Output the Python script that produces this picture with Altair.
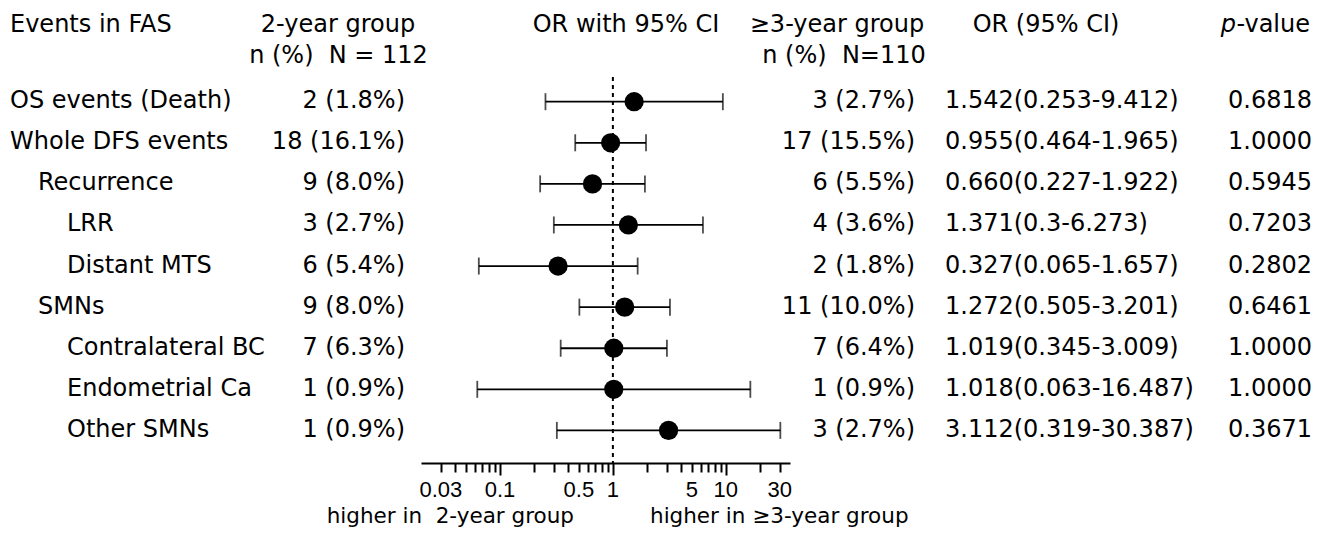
import altair as alt
import pandas as pd

# ---- data -------------------------------------------------------------
rows = ["OS events (Death)", "Whole DFS events", "Recurrence", "LRR", "Distant MTS",
        "SMNs", "Contralateral BC", "Endometrial Ca", "Other SMNs"]
levels = [0, 0, 1, 2, 2, 1, 2, 2, 2]
n_two = ["2 (1.8%)", "18 (16.1%)", "9 (8.0%)", "3 (2.7%)", "6 (5.4%)",
         "9 (8.0%)", "7 (6.3%)", "1 (0.9%)", "1 (0.9%)"]
n_three = ["3 (2.7%)", "17 (15.5%)", "6 (5.5%)", "4 (3.6%)", "2 (1.8%)",
           "11 (10.0%)", "7 (6.4%)", "1 (0.9%)", "3 (2.7%)"]
odds = [1.542, 0.955, 0.660, 1.371, 0.327, 1.272, 1.019, 1.018, 3.112]
ci_low = [0.253, 0.464, 0.227, 0.3, 0.065, 0.505, 0.345, 0.063, 0.319]
ci_high = [9.412, 1.965, 1.922, 6.273, 1.657, 3.201, 3.009, 16.487, 30.387]
or_text = ["1.542(0.253-9.412)", "0.955(0.464-1.965)", "0.660(0.227-1.922)",
           "1.371(0.3-6.273)", "0.327(0.065-1.657)", "1.272(0.505-3.201)",
           "1.019(0.345-3.009)", "1.018(0.063-16.487)", "3.112(0.319-30.387)"]
p_values = ["0.6818", "1.0000", "0.5945", "0.7203", "0.2802",
            "0.6461", "1.0000", "1.0000", "0.3671"]

tick_values = [0.03, 0.04, 0.05, 0.06, 0.07, 0.08, 0.09, 0.1,
               0.2, 0.3, 0.4, 0.5, 0.6, 0.7, 0.8, 0.9, 1,
               2, 3, 4, 5, 6, 7, 8, 9, 10, 20, 30]
major_ticks = [0.1, 1, 10]
labelled_ticks = [0.03, 0.1, 0.5, 1, 5, 10, 30]
labelled_text = ["0.03", "0.1", "0.5", "1", "5", "10", "30"]
ref_line = [1]

df = pd.DataFrame({
    "label": rows, "level": levels, "n2": n_two, "n3": n_three,
    "or": odds, "lo": ci_low, "hi": ci_high, "ortxt": or_text, "p": p_values,
})
ticks_df = pd.DataFrame({"v": labelled_ticks, "t": labelled_text})

# ---- styling ----------------------------------------------------------
FONT = "DejaVu Sans"
FS = 24
W, H = 1312, 455

xscale = alt.Scale(type="log", domain=[0.02, 37], range=[413, 782], nice=False)
yscale = alt.Scale(type="point", domain=rows, range=[93.7, 422.4], padding=0)

base = alt.Chart(df)
Y = alt.Y("label:N", scale=yscale, axis=None)

major_test = "indexof(%s, datum.value) >= 0" % str(major_ticks)

xaxis = alt.Axis(
    values=tick_values, title=None, grid=False, labels=False,
    domainColor="black", domainWidth=2,
    tickColor="black", tickWidth=2,
    tickSize={"condition": {"test": major_test, "value": 12}, "value": 9},
)

ref = alt.Chart(pd.DataFrame({"v": ref_line})).mark_rule(
    color="black", strokeWidth=2, strokeDash=[4, 4]
).encode(
    x=alt.X("v:Q", scale=xscale, axis=xaxis),
    y=alt.value(69), y2=alt.value(H),
)

tick_labels = alt.Chart(ticks_df).mark_text(
    font="Liberation Sans", fontSize=22, color="black", align="center",
    baseline="alphabetic",
).encode(x=alt.X("v:Q", scale=xscale), y=alt.value(489), text="t:N")

bars = base.mark_rule(color="black", strokeWidth=1.8).encode(
    x=alt.X("lo:Q", scale=xscale), x2="hi:Q", y=Y)
cap_lo = base.mark_tick(color="black", thickness=1.8, size=17, orient="vertical").encode(
    x=alt.X("lo:Q", scale=xscale), y=Y)
cap_hi = base.mark_tick(color="black", thickness=1.8, size=17, orient="vertical").encode(
    x=alt.X("hi:Q", scale=xscale), y=Y)
pts = base.mark_circle(color="black", opacity=1, size=370).encode(
    x=alt.X("or:Q", scale=xscale), y=Y)


def col(field, x, align, data=base):
    return data.mark_text(font=FONT, fontSize=FS, color="black", align=align,
                          baseline="alphabetic", dy=6.5).encode(
        text=f"{field}:N", x=alt.value(x), y=Y)


label_layers = [
    col("label", xpos, "left", data=base.transform_filter(alt.datum.level == lv))
    for lv, xpos in [(0, 2), (1, 30), (2, 59)]
]
cols = [col("n2", 397, "right"), col("n3", 907, "right"),
        col("ortxt", 937, "left"), col("p", 1304, "right")]


def txt(text, x, y, align="center", size=FS, font=FONT, style="normal"):
    return alt.Chart(pd.DataFrame({"t": [text]})).mark_text(
        font=font, fontSize=size, color="black", align=align,
        baseline="alphabetic", fontStyle=style,
    ).encode(text="t:N", x=alt.value(x), y=alt.value(y))


headers = [
    txt("Events in FAS", 2, 23.7, "left"),
    txt("2-year group", 330, 23.7),
    txt("n (%) \u00a0N = 112", 330.5, 55.3),
    txt("OR with 95% CI", 618, 23.7),
    txt("\u22653-year group", 829, 23.7),
    txt("n (%) \u00a0N=110", 836, 55.3),
    txt("OR (95% CI)", 1038, 23.7),
    txt("p", 1228, 23.7, "right", style="italic"),
    txt("-value", 1302, 23.7, "right"),
    txt("higher in \u00a02-year group", 566, 515, "right", size=21.5),
    txt("higher in \u22653-year group", 642, 515, "left", size=21.5),
]

chart = alt.layer(
    ref, tick_labels, bars, cap_lo, cap_hi, pts, *label_layers, *cols, *headers
).properties(
    width=W, height=H,
    padding={"left": 0, "top": 0, "right": 0, "bottom": 64},
    autosize=alt.AutoSizeParams(type="none"),
    background="white",
).configure_view(stroke=None)

chart.save("out.html", embed_options={"renderer": "svg", "actions": False})
